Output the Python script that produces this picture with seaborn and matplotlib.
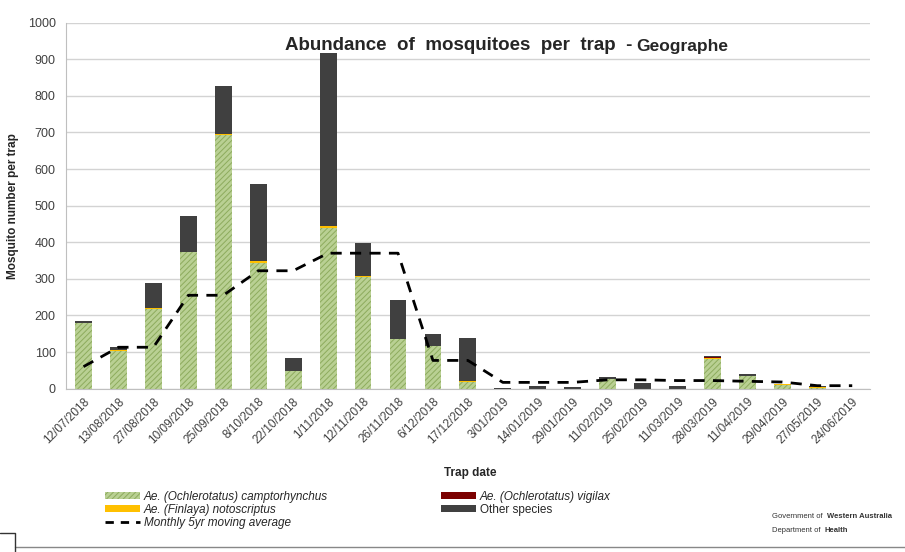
import numpy as np
import matplotlib
matplotlib.use('Agg')
import matplotlib.pyplot as plt
import seaborn as sns
from matplotlib.patches import Patch
from matplotlib.lines import Line2D

# trap dates and counts per trap
dates = ['12/07/2018', '13/08/2018', '27/08/2018', '10/09/2018', '25/09/2018',
         '8/10/2018', '22/10/2018', '1/11/2018', '12/11/2018', '26/11/2018',
         '6/12/2018', '17/12/2018', '3/01/2019', '14/01/2019', '29/01/2019',
         '11/02/2019', '25/02/2019', '11/03/2019', '28/03/2019', '11/04/2019',
         '29/04/2019', '27/05/2019', '24/06/2019']
camptorhynchus = [180, 103, 217, 372, 693, 343, 47, 440, 305, 135,
                  116, 18, 0, 0, 0, 27, 0, 0, 82, 35, 9, 1, 0]
notoscriptus = [0, 3, 3, 2, 3, 6, 2, 5, 3, 0,
                0, 3, 0, 0, 0, 0, 0, 0, 3, 0, 3, 4, 0]
vigilax = [0, 0, 0, 0, 0, 0, 0, 0, 0, 0,
           0, 0, 0, 0, 0, 0, 0, 0, 1, 0, 0, 0, 0]
other = [5, 7, 68, 99, 132, 211, 34, 473, 90, 108,
         34, 118, 3, 8, 4, 4, 14, 8, 2, 5, 1, 1, 0]
moving_avg = [60, 113, 113, 255, 255, 322, 322, 370, 370, 370,
              77, 77, 17, 17, 17, 24, 24, 22, 22, 20, 18, 8, 8]

c_green = '#b9d093'
c_hatch = '#8dab5d'
c_yellow = '#ffc000'
c_maroon = '#7b0000'
c_other = '#404040'

sns.set_style('white')
plt.rcParams['font.family'] = ['Liberation Sans', 'DejaVu Sans']
plt.rcParams['hatch.linewidth'] = 0.7

fig = plt.figure(figsize=(9.05, 5.52), dpi=100)
ax = fig.add_axes([0.073, 0.296, 0.888, 0.663])

# stacked totals, drawn from the top layer down so each covers the next
lvl1 = np.array(camptorhynchus)
lvl2 = lvl1 + np.array(notoscriptus)
lvl3 = lvl2 + np.array(vigilax)
lvl4 = lvl3 + np.array(other)

for vals, col in [(lvl4, c_other), (lvl3, c_maroon), (lvl2, c_yellow)]:
    sns.barplot(x=dates, y=vals, color=col, width=0.48, saturation=1,
                linewidth=0, ax=ax, order=dates)
sns.barplot(x=dates, y=lvl1, color=c_green, width=0.48, saturation=1,
            linewidth=0, ax=ax, order=dates)
for p in ax.containers[-1]:
    p.set_hatch('//////')
    p.set_edgecolor(c_hatch)
    p.set_linewidth(0)

sns.lineplot(x=np.arange(len(dates)), y=moving_avg, color='black', lw=2,
             linestyle=(0, (4, 3)), ax=ax)

ax.set_xlim(-0.5, len(dates) - 0.5)
ax.set_ylim(0, 1000)
ax.set_yticks(range(0, 1001, 100))
ax.yaxis.grid(True, color='#d3d3d3', lw=1)
ax.set_axisbelow(True)
for s in ['top', 'right']:
    ax.spines[s].set_visible(False)
for s in ['left', 'bottom']:
    ax.spines[s].set_color('#bfbfbf')
ax.tick_params(axis='y', labelsize=9, colors='#404040', length=4, color='#bfbfbf')
ax.set_xticks(np.arange(len(dates)))
ax.set_xticklabels(dates, rotation=45, ha='right', rotation_mode='anchor',
                   fontsize=8.5, color='#404040')
ax.tick_params(axis='x', which='major', length=0, pad=5)
ax.set_xticks(np.arange(len(dates) + 1) - 0.5, minor=True)
ax.tick_params(axis='x', which='minor', length=4, color='#bfbfbf')
ax.set_xlabel('')
ax.set_ylabel('Mosquito number per trap', fontsize=8.5, fontweight='bold', labelpad=6)

fig.text(285 / 905, 1 - 45 / 552, 'Abundance  of  mosquitoes  per  trap  -',
         fontsize=13.5, fontweight='bold', va='center', ha='left')
fig.text(636 / 905, 1 - 46 / 552, 'Geographe', fontsize=12.5,
         fontweight='bold', va='center', ha='left')
fig.text(470 / 905, 1 - 473 / 552, 'Trap date', fontsize=8.5,
         fontweight='bold', va='center', ha='center')

handles = [
    Patch(facecolor=c_green, edgecolor=c_hatch, hatch='//////', lw=0),
    Patch(facecolor=c_yellow, lw=0),
    Line2D([0], [0], color='black', lw=2, linestyle=(0, (3, 2.5))),
    Patch(facecolor=c_maroon, lw=0),
    Patch(facecolor=c_other, lw=0),
]
labels = ['Ae. (Ochlerotatus) camptorhynchus', 'Ae. (Finlaya) notoscriptus',
          'Monthly 5yr moving average', 'Ae. (Ochlerotatus) vigilax',
          'Other species']
leg = fig.legend(handles, labels, ncol=2, loc='upper left',
                 bbox_to_anchor=(94 / 905, 1 - 480 / 552), frameon=False,
                 fontsize=8.5, handlelength=3, handleheight=0.6,
                 labelspacing=0.1, columnspacing=9.6, handletextpad=0.3)
for t in leg.get_texts()[:4]:
    t.set_style('italic')

# department footer: plain and bold runs placed one after the other
fig.canvas.draw()
renderer = fig.canvas.get_renderer()
for row_y, parts in [(517, ['Government of ', 'Western Australia']),
                     (530, ['Department of ', 'Health'])]:
    x = 772 / 905
    for i, txt in enumerate(parts):
        t = fig.text(x, 1 - row_y / 552, txt, fontsize=5.5, color='#333333',
                     fontweight='bold' if i else 'normal', va='center', ha='left')
        bb = t.get_window_extent(renderer)
        x = bb.x1 / fig.bbox.width + 2 / 905
fig.add_artist(Line2D([15 / 905, 1], [1 - 547 / 552] * 2, color='#888888', lw=1))
fig.add_artist(Line2D([0, 15 / 905, 15 / 905], [1 - 533 / 552, 1 - 533 / 552, 0],
                      color='#333333', lw=1))

fig.savefig('out.png', dpi=100)
